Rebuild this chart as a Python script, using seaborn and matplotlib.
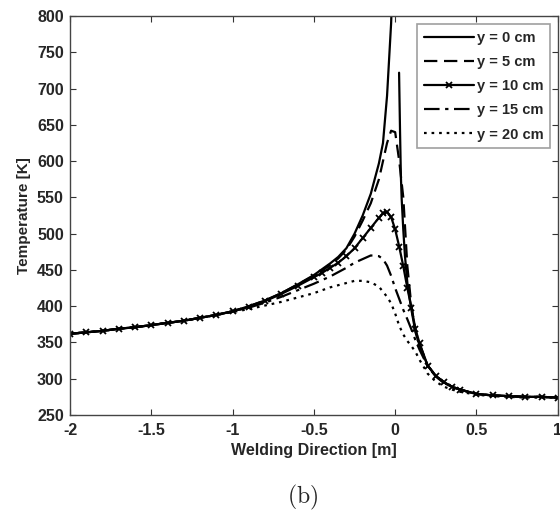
import numpy as np
import pandas as pd
import seaborn as sns
import matplotlib
matplotlib.use('Agg')
import matplotlib.pyplot as plt

# x positions along the weld [m]
x_far = [-2.0, -1.9, -1.8, -1.7, -1.6, -1.5, -1.4, -1.3, -1.2, -1.1, -1.0,
         -0.9, -0.8, -0.7, -0.6, -0.5, -0.45, -0.4, -0.35, -0.3, -0.25, -0.2,
         -0.15, -0.1, -0.075, -0.05, -0.025, 0.0, 0.025, 0.05, 0.075, 0.1,
         0.125, 0.15, 0.2, 0.25, 0.3, 0.35, 0.4, 0.5, 0.6, 0.7, 0.8, 0.9, 1.0]

t_left = [362, 364, 366, 369, 371, 374, 377, 380, 384, 388, 393]

# y = 0 cm is drawn in two pieces (peak is off the chart)
x_y0_up = [-2.0, -1.9, -1.8, -1.7, -1.6, -1.5, -1.4, -1.3, -1.2, -1.1, -1.0,
           -0.9, -0.8, -0.7, -0.6, -0.5, -0.45, -0.4, -0.35, -0.3, -0.25, -0.2,
           -0.15, -0.1, -0.075, -0.05, -0.025, -0.01]
t_y0_up = t_left + [400, 408, 418, 430, 443, 451, 459, 468, 480, 500, 525,
                    555, 597, 625, 690, 790, 880]
x_y0_down = [0.024, 0.03, 0.035, 0.04, 0.05, 0.06, 0.075, 0.1, 0.125, 0.15,
             0.2, 0.25, 0.3, 0.35, 0.4, 0.5, 0.6, 0.7, 0.8, 0.9, 1.0]
t_y0_down = [722, 640, 580, 548, 505, 470, 432, 395, 364, 346,
             318, 304, 295, 289, 285, 279, 277, 276, 275, 275, 274]

t_tail = [318, 304, 295, 289, 285, 279, 277, 276, 275, 275, 274]

t_y5 = t_left + [400, 408, 418, 430, 442, 449, 457, 466, 478, 496, 518,
                 542, 575, 600, 625, 642, 640, 600, 550, 455, 400, 366, 348] + t_tail
t_y10 = t_left + [399, 407, 417, 428, 440, 446, 453, 460, 469, 480, 494,
                  508, 522, 528, 530, 523, 506, 482, 455, 425, 398, 368, 349] + t_tail
t_y15 = t_left + [398, 405, 413, 422, 431, 436, 441, 447, 453, 460, 465,
                  470, 469, 465, 456, 442, 425, 410, 395, 382, 368, 353, 340] + [317, 303, 294, 289, 285, 279, 277, 276, 275, 275, 274]
t_y20 = [362, 364, 366, 369, 371, 374, 377, 380, 384, 388, 392,
         396, 401, 406, 412, 418, 422, 426, 429, 432, 435, 435,
         433, 427, 420, 413, 404, 390, 373, 361, 352, 345, 337, 326] + [307, 296, 289, 285, 282, 278, 276, 275, 274, 274, 274]

labels = ['y = 0 cm', 'y = 5 cm', 'y = 10 cm', 'y = 15 cm', 'y = 20 cm']

sns.set_style('ticks')
plt.rcParams['font.family'] = ['Liberation Sans', 'DejaVu Sans']
plt.rcParams['font.weight'] = 'bold'
plt.rcParams['mathtext.fontset'] = 'cm'

fig = plt.figure(figsize=(5.6, 5.14), dpi=100)
ax = fig.add_axes([0.125, 0.1926, 0.871, 0.776])

lw = 1.6
sns.lineplot(x=x_y0_up, y=t_y0_up, ax=ax, color='black', lw=lw, ls='-', label=labels[0])
sns.lineplot(x=x_y0_down, y=t_y0_down, ax=ax, color='black', lw=lw, ls='-')
sns.lineplot(x=x_far, y=t_y5, ax=ax, color='black', lw=lw, ls=(0, (6, 3)), label=labels[1])
sns.lineplot(x=x_far, y=t_y10, ax=ax, color='black', lw=lw, ls='-', label=labels[2],
             marker='x', markersize=4, mew=1.3, mec='black')
sns.lineplot(x=x_far, y=t_y15, ax=ax, color='black', lw=lw, ls=(0, (7, 2.5, 1.5, 2.5)),
             label=labels[3])
sns.lineplot(x=x_far, y=t_y20, ax=ax, color='black', lw=lw, ls=(0, (1.2, 2.2)),
             label=labels[4])

ax.set_xlim(-2, 1)
ax.set_ylim(250, 800)
ax.set_xticks([-2, -1.5, -1, -0.5, 0, 0.5, 1])
ax.set_xticklabels(['-2', '-1.5', '-1', '-0.5', '0', '0.5', '1'])
ax.set_yticks(np.arange(250, 801, 50))
ax.tick_params(direction='in', top=True, right=True, length=4, width=0.8,
               labelsize=11.5, color='#333333')
ax.tick_params(axis='x', pad=6)
ax.tick_params(axis='y', pad=4.5)
for s in ax.spines.values():
    s.set_color('#444444')
    s.set_linewidth(1.0)
for lab in ax.get_xticklabels() + ax.get_yticklabels():
    lab.set_fontweight('bold')

ax.set_xlabel('Welding Direction [m]', fontsize=11.5, fontweight='bold', labelpad=3)
ax.set_ylabel('Temperature [K]', fontsize=11, fontweight='bold', labelpad=4)

leg = ax.legend(loc='upper right', fontsize=10.5, frameon=True, fancybox=False,
                handlelength=3.4, handletextpad=0.2, borderpad=0.45,
                labelspacing=0.7, borderaxespad=0.55)
leg.get_frame().set_edgecolor('#888888')
leg.get_frame().set_linewidth(1.2)
for t in leg.get_texts():
    t.set_fontweight('bold')

fig.text(303 / 560, 1 - 497 / 514, r'$\mathrm{(b)}$', fontsize=17, ha='center', va='center')

fig.savefig('out.png', dpi=100)
